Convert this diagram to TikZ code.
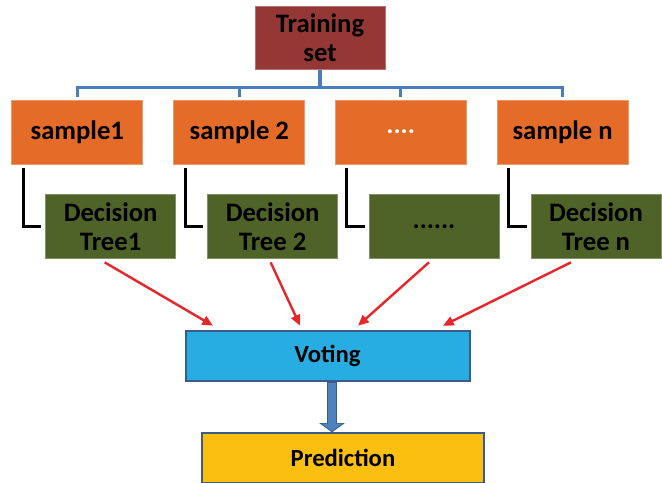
\documentclass[tikz,border=0pt]{standalone}
\usepackage{fontspec}
\setmainfont{Carlito}
\usepackage{tikz}
\usetikzlibrary{arrows.meta,positioning}

\definecolor{trainred}{HTML}{953735}
\definecolor{sampleorange}{HTML}{E46C28}
\definecolor{treegreen}{HTML}{4F6228}
\definecolor{votingblue}{HTML}{28ADE3}
\definecolor{predyellow}{HTML}{FBBF10}
\definecolor{edgeblue}{HTML}{385D8A}
\definecolor{forkblue}{HTML}{4A7EBB}
\definecolor{fatblue}{HTML}{4F81BD}
\definecolor{arrowred}{HTML}{E8262A}

\begin{document}
\begin{tikzpicture}[
    x=0.75pt, y=0.75pt,
    node distance=71pt,
    >={Triangle[length=8pt,width=7pt]},
    basebox/.style={
		rectangle,
		text centered,
		align=center,
		inner sep=0pt,
		line width=0.75pt,
		font=\bfseries\fontsize{20}{21.5}\selectfont
	},
    trainbox/.style={basebox, fill=trainred, draw=trainred!70!white,
		minimum width=97.5pt, minimum height=47.25pt},
    samplebox/.style={basebox, fill=sampleorange, draw=sampleorange!70!white,
		minimum width=98.25pt, minimum height=48pt},
    treebox/.style={basebox, fill=treegreen, draw=treegreen!70!white,
		minimum width=97.5pt, minimum height=48pt},
    resultbox/.style={basebox, line width=1.5pt, draw=edgeblue,
		minimum height=37pt, font=\bfseries\fontsize{18.5}{20}\selectfont},
    forkline/.style={draw=forkblue, line width=2.3pt},
    treeline/.style={draw=black, line width=2.2pt},
    votearrow/.style={draw=arrowred, line width=1.8pt, ->}
  ]
  \useasboundingbox (0,0) rectangle (662,-483);

  % the training set and its samples
  \node [trainbox] (train) at (320,-37.5) {Training\\set};

  \node [samplebox, below of=train, xshift=-182pt] (s1) {sample1};
  \node [samplebox, below of=train, xshift=-60.5pt] (s2) {sample 2};
  \node [samplebox, below of=train, xshift=60.5pt, text=white] (s3) {....};
  \node [samplebox, below of=train, xshift=182pt] (s4) {sample n};

  % one tree per sample
  \node [treebox, below of=s1, xshift=25pt] (t1) {Decision\\Tree1};
  \node [treebox, below of=s2, xshift=25pt] (t2) {Decision\\Tree 2};
  \node [treebox, below of=s3, xshift=25pt] (t3) {......};
  \node [treebox, below of=s4, xshift=25pt] (t4) {Decision\\Tree n};

  \node [resultbox, fill=votingblue, minimum width=213pt] (vote) at (327.5,-356) {Voting};
  \node [resultbox, fill=predyellow, minimum width=211.5pt,
         below of=vote, node distance=76.5pt, xshift=11.6pt] (pred) {Prediction};

  % fork from the training set
  \coordinate (fork) at ([yshift=-13.5pt]train.south);
  \draw [forkline] (train.south) -- (fork);
  \draw [forkline, shorten >=2.25pt] (fork) -| (s1.north);
  \draw [forkline, shorten >=2.25pt] (fork) -| (s2.north);
  \draw [forkline, shorten >=2.25pt] (fork) -| (s3.north);
  \draw [forkline, shorten >=2.25pt] (fork) -| (s4.north);

  % sample -> tree
  \draw [treeline] ([xshift=9pt,yshift=-2.25pt]s1.south west) |- ([xshift=-3pt]t1.west);
  \draw [treeline] ([xshift=9pt,yshift=-2.25pt]s2.south west) |- ([xshift=-3pt]t2.west);
  \draw [treeline] ([xshift=9pt,yshift=-2.25pt]s3.south west) |- ([xshift=-3pt]t3.west);
  \draw [treeline] ([xshift=9pt,yshift=-2.25pt]s4.south west) |- ([xshift=-3pt]t4.west);

  % trees -> voting
  \draw [votearrow] ([xshift=-4.5pt,yshift=-2.25pt]t1.south) -- ([xshift=-85.9pt,yshift=3.5pt]vote.north);
  \draw [votearrow] ([xshift=-1.5pt,yshift=-2.25pt]t2.south) -- ([xshift=-20.6pt,yshift=3.5pt]vote.north);
  \draw [votearrow] ([xshift=-3.75pt,yshift=-2.25pt]t3.south) -- ([xshift=22.9pt,yshift=3.5pt]vote.north);
  \draw [votearrow] ([xshift=-18.75pt,yshift=-2.25pt]t4.south) -- ([xshift=86.6pt,yshift=3.5pt]vote.north);

  % voting -> prediction
  \draw [draw=edgeblue, line width=7.5pt, -{Triangle[length=7pt,width=19pt]}]
    ([xshift=3.4pt]vote.south) -- ([xshift=3.4pt]vote.south |- pred.north);
  \draw [draw=fatblue, line width=5.8pt, shorten <=0.8pt, shorten >=1pt,
         -{Triangle[length=5.5pt,width=15.5pt]}]
    ([xshift=3.4pt]vote.south) -- ([xshift=3.4pt]vote.south |- pred.north);
\end{tikzpicture}
\end{document}
